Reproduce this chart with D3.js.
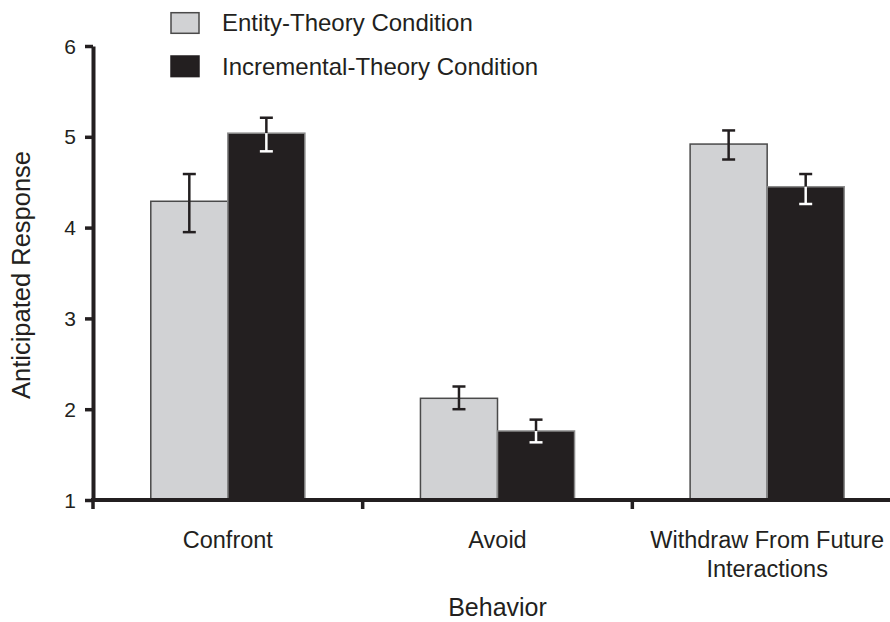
<!DOCTYPE html>
<html><head><meta charset="utf-8">
<script src="https://cdn.jsdelivr.net/npm/d3@7"></script>
<style>body{margin:0;background:#fff}svg{display:block}text{font-family:"Liberation Sans",Arial,Helvetica,sans-serif;fill:#231f20}</style>
</head><body><svg id="c" width="890" height="622"></svg>
<script>
const categories = ["Confront", "Avoid", "Withdraw From Future Interactions"];
const categoryLines = [["Confront"], ["Avoid"], ["Withdraw From Future", "Interactions"]];
const seriesNames = ["Entity-Theory Condition", "Incremental-Theory Condition"];
const entityMeans = [4.29, 2.12, 4.92];
const entityLow = [3.95, 2.00, 4.75];
const entityHigh = [4.59, 2.25, 5.07];
const incrementalMeans = [5.04, 1.76, 4.45];
const incrementalLow = [4.84, 1.635, 4.26];
const incrementalHigh = [5.21, 1.885, 4.59];
const yTicks = [1, 2, 3, 4, 5, 6];
const colors = ["#d1d2d4", "#231f20"];
const strokes = ["#4a4a4a", "#8a8a8a"];

const svg = d3.select("#c");
const x0 = d3.scaleBand().domain(categories).range([93, 902]).paddingInner(0).paddingOuter(0);
const x1 = d3.scaleBand().domain(seriesNames).range([0, x0.bandwidth()]).paddingInner(0).paddingOuter(0.75);
const y = d3.scaleLinear().domain([1, 6]).range([500, 46]);

const data = [];
categories.forEach((c, i) => {
  data.push({c, s: seriesNames[0], v: entityMeans[i], lo: entityLow[i], hi: entityHigh[i], k: 0});
  data.push({c, s: seriesNames[1], v: incrementalMeans[i], lo: incrementalLow[i], hi: incrementalHigh[i], k: 1});
});

// bars
svg.append("g").selectAll("rect").data(data).join("rect")
  .attr("x", d => x0(d.c) + x1(d.s))
  .attr("y", d => y(d.v))
  .attr("width", x1.bandwidth())
  .attr("height", d => y(1) - y(d.v))
  .attr("fill", d => colors[d.k])
  .attr("stroke", d => strokes[d.k])
  .attr("stroke-width", 1.5);

// error bars
const eb = svg.append("g").selectAll("g").data(data).join("g");
const cx = d => x0(d.c) + x1(d.s) + x1.bandwidth() / 2;
const capW = 6.5;
const ebW = 2.5;
eb.append("line").attr("x1", cx).attr("x2", cx)
  .attr("y1", d => y(d.hi)).attr("y2", d => y(d.v))
  .attr("stroke", "#231f20").attr("stroke-width", ebW);
eb.append("line").attr("x1", d => cx(d) - capW).attr("x2", d => cx(d) + capW)
  .attr("y1", d => y(d.hi)).attr("y2", d => y(d.hi))
  .attr("stroke", "#231f20").attr("stroke-width", ebW);
eb.append("line").attr("x1", cx).attr("x2", cx)
  .attr("y1", d => y(d.v)).attr("y2", d => y(d.lo))
  .attr("stroke", d => d.k === 1 ? "#fff" : "#231f20").attr("stroke-width", ebW);
eb.append("line").attr("x1", d => cx(d) - capW).attr("x2", d => cx(d) + capW)
  .attr("y1", d => y(d.lo)).attr("y2", d => y(d.lo))
  .attr("stroke", d => d.k === 1 ? "#fff" : "#231f20").attr("stroke-width", ebW);

// y axis
const yAxis = svg.append("g").attr("transform", "translate(93,0)")
  .call(d3.axisLeft(y).tickValues(yTicks).tickFormat(d3.format("d")).tickSize(8).tickSizeOuter(0).tickPadding(9));
yAxis.select(".domain").attr("stroke", "#231f20").attr("stroke-width", 4);
yAxis.selectAll(".tick line").attr("stroke", "#231f20").attr("stroke-width", 3.5);
yAxis.selectAll(".tick text").attr("font-size", 21).attr("dy", "0.34em").style("fill", "#231f20");

// x axis
const xTickPos = [93, ...categories.slice(1).map(c => x0(c))];
const xAxis = svg.append("g").attr("transform", "translate(0,500)");
xAxis.append("line").attr("x1", 91).attr("x2", 902).attr("y1", 0).attr("y2", 0)
  .attr("stroke", "#231f20").attr("stroke-width", 4);
xAxis.selectAll(".xt").data(xTickPos).join("line").attr("class", "xt")
  .attr("x1", d => d).attr("x2", d => d).attr("y1", 0).attr("y2", 9)
  .attr("stroke", "#231f20").attr("stroke-width", 3.5);
const labels = xAxis.selectAll(".xl").data(categories).join("text").attr("class", "xl")
  .attr("text-anchor", "middle").attr("font-size", 23.5)
  .attr("x", d => x0(d) + x0.bandwidth() / 2);
labels.each(function(d, i) {
  d3.select(this).selectAll("tspan").data(categoryLines[i]).join("tspan")
    .attr("x", x0(d) + x0.bandwidth() / 2)
    .attr("y", (t, j) => 48 + j * 29)
    .text(t => t);
});

// axis titles
svg.append("text").attr("x", x0("Avoid") + x0.bandwidth() / 2).attr("y", 616)
  .attr("text-anchor", "middle").attr("font-size", 25).text("Behavior");
svg.append("text").attr("transform", "translate(30,275) rotate(-90)")
  .attr("text-anchor", "middle").attr("font-size", 25.5).text("Anticipated Response");

// legend
const lg = svg.append("g").selectAll("g").data(seriesNames).join("g")
  .attr("transform", (d, i) => `translate(171,${12.7 + i * 43.3})`);
lg.append("rect").attr("width", 28).attr("height", 20.6)
  .attr("fill", (d, i) => colors[i]).attr("stroke", (d, i) => i ? "#231f20" : "#4a4a4a").attr("stroke-width", 1.5);
lg.append("text").attr("x", 51).attr("y", 18.5).attr("font-size", 24).text(d => d);
</script></body></html>
